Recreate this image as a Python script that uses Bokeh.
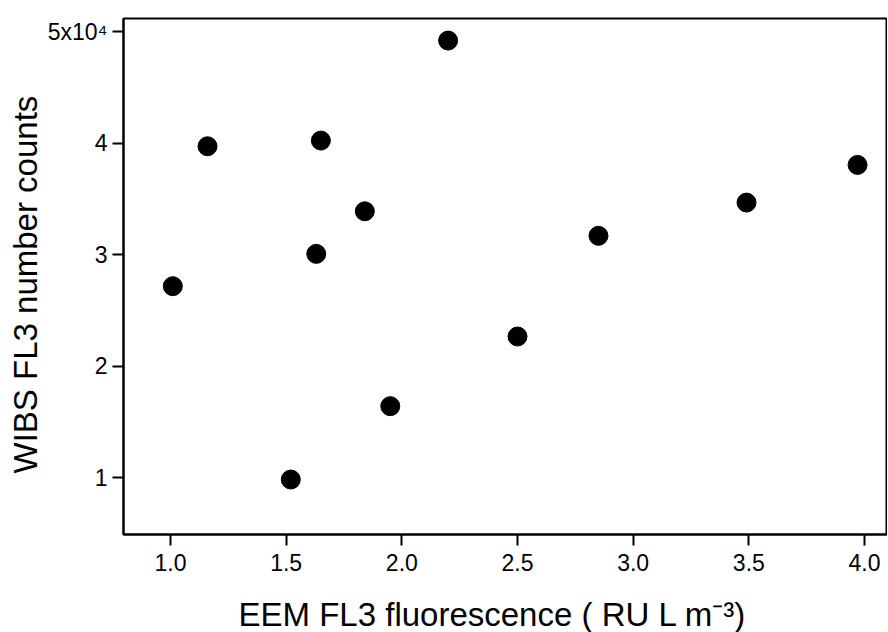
from bokeh.plotting import figure
from bokeh.models import ColumnDataSource, Range1d, FixedTicker, Title
from bokeh.embed import file_html
from bokeh.resources import INLINE

# ---- data ----
eem_fl3 = [1.01, 1.16, 1.52, 1.63, 1.65, 1.84, 1.95, 2.20, 2.50, 2.85, 3.49, 3.97]
wibs_fl3 = [27160, 39710, 9820, 30060, 40220, 33880, 16400, 49190, 22650, 31680, 34660, 38040]

x_ticks = [1.0, 1.5, 2.0, 2.5, 3.0, 3.5, 4.0]
x_tick_labels = ["1.0", "1.5", "2.0", "2.5", "3.0", "3.5", "4.0"]
y_ticks = [10000, 20000, 30000, 40000, 50000]
y_tick_labels = ["1", "2", "3", "4", "5x10\u2074"]

x_label = "EEM FL3 fluorescence ( RU L m\u207b\u00b3)"
y_label = "WIBS FL3 number counts"

FONT = "Liberation Sans"

x_start, x_end = 0.7968, 4.0951
y_start, y_end = 4890, 51170

p = figure(frame_width=763, frame_height=516,
           min_border_left=123, min_border_right=1,
           min_border_top=18, min_border_bottom=96,
           x_range=Range1d(x_start, x_end), y_range=Range1d(y_start, y_end),
           output_backend="svg", toolbar_location=None)

p.background_fill_color = "white"
p.border_fill_color = "white"
p.outline_line_color = "black"
p.outline_line_width = 2
p.grid.visible = False

src = ColumnDataSource(dict(x=eem_fl3, y=wibs_fl3))
p.scatter("x", "y", source=src, size=19, fill_color="black", line_color="black")

for ax in (p.xaxis[0], p.yaxis[0]):
    ax.axis_line_color = "black"
    ax.axis_line_width = 2
    ax.major_tick_line_color = "black"
    ax.major_tick_line_width = 2
    ax.major_tick_in = 0
    ax.major_tick_out = 11
    ax.minor_tick_line_color = None
    ax.major_label_text_font = FONT
    ax.major_label_text_font_size = "23px"
    ax.major_label_text_color = "black"

p.xaxis[0].ticker = FixedTicker(ticks=x_ticks)
p.xaxis[0].major_label_overrides = {t: l for t, l in zip(x_ticks, x_tick_labels)}
p.xaxis[0].major_label_standoff = 8
p.yaxis[0].ticker = FixedTicker(ticks=y_ticks)
p.yaxis[0].major_label_overrides = {t: l for t, l in zip(y_ticks, y_tick_labels)}
p.yaxis[0].major_label_standoff = 5

# axis titles as side-panel titles (positioned like the reference)
p.add_layout(Title(text=x_label, align="left", offset=115, standoff=40,
                   text_font=FONT, text_font_size="33px", text_font_style="normal",
                   text_color="black"), "below")
p.add_layout(Title(text=y_label, align="left", offset=61, standoff=2,
                   text_font=FONT, text_font_size="33px", text_font_style="normal",
                   text_color="black"), "left")

open("out.html", "w").write(file_html(p, INLINE))
